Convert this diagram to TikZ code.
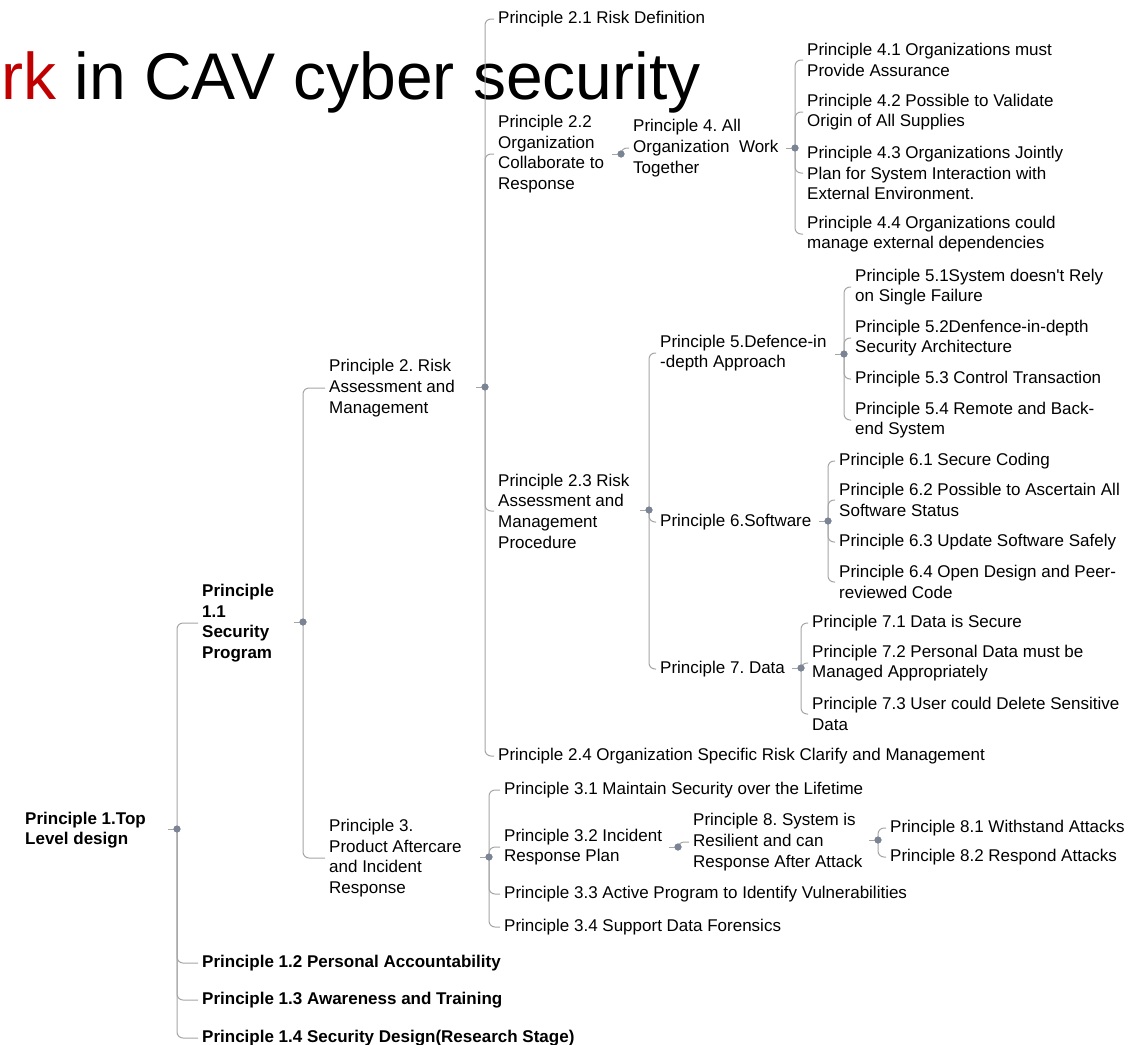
\documentclass[tikz,border=0pt]{standalone}
\usepackage{fontspec}
\setmainfont{Liberation Sans}[Ligatures=TeXReset]
\frenchspacing
\definecolor{linegray}{RGB}{165,165,165}
\definecolor{dotgray}{RGB}{122,132,148}
\definecolor{titlered}{RGB}{192,0,0}
\tikzset{
	item/.style={anchor=west, align=left, inner xsep=4pt, inner ysep=0pt, yshift=-2pt, font=\fontsize{17}{20.7}\selectfont},
	bolditem/.style={item, font=\fontsize{17}{20.7}\selectfont\bfseries},
	dot/.style={circle, fill=dotgray, inner sep=0pt, minimum size=7pt},
	conn/.style={draw=linegray, line width=1pt, rounded corners=6pt},
}
\begin{document}
\begin{tikzpicture}[x=1pt, y=-1pt]
		\useasboundingbox (0,0) rectangle (1148,1044);
		
		% Title
		\node[anchor=base west, inner sep=0pt, font=\fontsize{66}{70}\selectfont] (title) at (1,99) {\textcolor{titlered}{rk} in CAV cyber security};
		
		% Level 1
		\node[bolditem] (p1) at (21,828) {Principle 1.Top\\Level design};
		\node[bolditem] (p11) at (198,621) {Principle\\1.1\\Security\\Program};
		\node[bolditem] (p12) at (198,961) {Principle 1.2 Personal Accountability};
		\node[bolditem] (p13) at (198,998) {Principle 1.3 Awareness and Training};
		\node[bolditem] (p14) at (198,1036) {Principle 1.4 Security Design(Research Stage)};
		
		% Level 2
		\node[item] (p2) at (325,386) {Principle 2. Risk\\Assessment and\\Management};
		\node[item] (p3) at (325,856) {Principle 3.\\Product Aftercare\\and Incident\\Response};
		
		% Principle 2 branch
		\node[item] (p21) at (494,17) {Principle 2.1 Risk Definition};
		\node[item] (p22) at (494,152) {Principle 2.2\\Organization\\Collaborate to\\Response};
		\node[item] (p23) at (494,509) {Principle 2.3 Risk\\Assessment and\\Management\\Procedure};
		\node[item] (p24) at (494,754) {Principle 2.4 Organization Specific Risk Clarify and Management};
		
		\node[item] (p4) at (629,146) {Principle 4. All\\Organization~~Work\\Together};
		\node[item] (p41) at (803,58) {Principle 4.1 Organizations must\\Provide Assurance};
		\node[item] (p42) at (803,110) {Principle 4.2 Possible to Validate\\Origin of All Supplies};
		\node[item] (p43) at (803,171) {Principle 4.3 Organizations Jointly\\Plan for System Interaction with\\External Environment.};
		\node[item] (p44) at (803,232) {Principle 4.4 Organizations could\\manage external dependencies};
		
		\node[item] (p5) at (656,351) {Principle 5.Defence-in\\-depth Approach};
		\node[item] (p51) at (851,285) {Principle 5.1System doesn't Rely\\on Single Failure};
		\node[item] (p52) at (851,336) {Principle 5.2Denfence-in-depth\\Security Architecture};
		\node[item] (p53) at (851,377) {Principle 5.3 Control Transaction};
		\node[item] (p54) at (851,418) {Principle 5.4 Remote and Back-\\end System};
		
		\node[item] (p6) at (656,520) {Principle 6.Software};
		\node[item] (p61) at (835,459) {Principle 6.1 Secure Coding};
		\node[item] (p62) at (835,498) {Principle 6.2 Possible to Ascertain All\\Software Status};
		\node[item] (p63) at (835,540) {Principle 6.3 Update Software Safely};
		\node[item] (p64) at (835,580) {Principle 6.4 Open Design and Peer-\\reviewed Code};
		
		\node[item] (p7) at (656,667) {Principle 7. Data};
		\node[item] (p71) at (808,621) {Principle 7.1 Data is Secure};
		\node[item] (p72) at (808,661) {Principle 7.2 Personal Data must be\\Managed Appropriately};
		\node[item] (p73) at (808,712) {Principle 7.3 User could Delete Sensitive\\Data};
		
		% Principle 3 branch
		\node[item] (p31) at (500,788) {Principle 3.1 Maintain Security over the Lifetime};
		\node[item] (p32) at (500,845) {Principle 3.2 Incident\\Response Plan};
		\node[item] (p33) at (500,892) {Principle 3.3 Active Program to Identify Vulnerabilities};
		\node[item] (p34) at (500,925) {Principle 3.4 Support Data Forensics};
		
		\node[item] (p8) at (689,840) {Principle 8. System is\\Resilient and can\\Response After Attack};
		\node[item] (p81) at (886,826) {Principle 8.1 Withstand Attacks};
		\node[item] (p82) at (886,855) {Principle 8.2 Respond Attacks};
		
		% Dots
		\node[dot] (d1) at (177,829) {};
		\node[dot] (d11) at (303,622) {};
		\node[dot] (d2) at (485,387) {};
		\node[dot] (d3) at (489,857) {};
		\node[dot] (d22) at (621,154) {};
		\node[dot] (d23) at (649,510) {};
		\node[dot] (d4) at (795,148) {};
		\node[dot] (d5) at (844,354) {};
		\node[dot] (d6) at (828,521) {};
		\node[dot] (d7) at (801,668) {};
		\node[dot] (d32) at (678,847) {};
		\node[dot] (d8) at (878,840) {};
		
		% Stubs into dots
		\foreach \d in {d1,d11,d2,d3,d22,d23,d4,d5,d6,d7,d32,d8}
			\draw[conn] (\d.center) -- ++(-9,0);
		
		% Connectors
		\foreach \c in {p11,p12,p13,p14}
			\draw[conn] (d1.center) |- (\c.west);
		\foreach \c in {p2,p3}
			\draw[conn] (d11.center) |- (\c.west);
		\foreach \c in {p21,p22,p23,p24}
			\draw[conn] (d2.center) |- (\c.west);
		\draw[conn] (d22.center) |- (p4.west);
		\foreach \c in {p41,p42,p43,p44}
			\draw[conn] (d4.center) |- (\c.west);
		\foreach \c in {p5,p6,p7}
			\draw[conn] (d23.center) |- (\c.west);
		\foreach \c in {p51,p52,p53,p54}
			\draw[conn] (d5.center) |- (\c.west);
		\foreach \c in {p61,p62,p63,p64}
			\draw[conn] (d6.center) |- (\c.west);
		\foreach \c in {p71,p72,p73}
			\draw[conn] (d7.center) |- (\c.west);
		\foreach \c in {p31,p32,p33,p34}
			\draw[conn] (d3.center) |- (\c.west);
		\draw[conn] (d32.center) |- (p8.west);
		\foreach \c in {p81,p82}
			\draw[conn] (d8.center) |- (\c.west);
		
		% Redraw dots on top
		\foreach \d in {d1,d11,d2,d3,d22,d23,d4,d5,d6,d7,d32,d8}
			\fill[dotgray] (\d) circle (3.5);
	\end{tikzpicture}
\end{document}
